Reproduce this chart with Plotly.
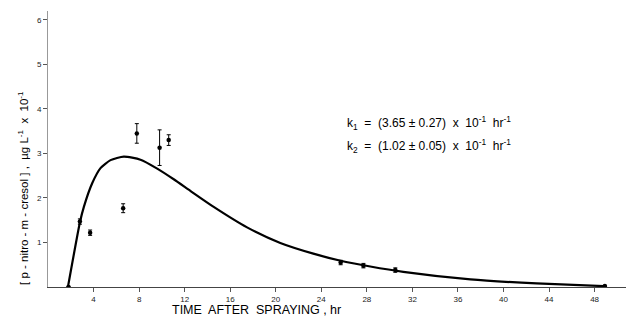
import plotly.graph_objects as go

# measured data (time, hr ; concentration, ug/L x 10^-1)
obs_t = [1.8, 2.8, 3.7, 6.6, 7.8, 9.8, 10.6, 25.7, 27.7, 30.5, 48.9]
obs_c = [0.0, 1.47, 1.22, 1.77, 3.45, 3.13, 3.30, 0.55, 0.48, 0.38, 0.02]
obs_err = [0.0, 0.06, 0.06, 0.1, 0.22, 0.4, 0.12, 0.05, 0.05, 0.05, 0.0]

# fitted curve
fit_t = [1.75, 2.8, 3.15, 3.88, 4.61, 5.49, 6.66, 8.12, 9.59, 11.04, 12.5, 14.55,
         17.48, 20.4, 23.3, 25.7, 28.3, 31.2, 37.1, 42.9, 48.8]
fit_c = [0.0, 1.45, 1.80, 2.33, 2.67, 2.85, 2.93, 2.86, 2.66, 2.42, 2.16, 1.80,
         1.34, 0.99, 0.75, 0.59, 0.46, 0.34, 0.17, 0.08, 0.02]

x_ticks = [4, 8, 12, 16, 20, 24, 28, 32, 36, 40, 44, 48]
y_ticks = [1, 2, 3, 4, 5, 6]

fig = go.Figure()
fig.add_trace(go.Scatter(
    x=fit_t, y=fit_c, mode="lines", line=dict(color="black", width=2.2, shape="spline", smoothing=0.6),
    hoverinfo="skip", showlegend=False))
fig.add_trace(go.Scatter(
    x=obs_t, y=obs_c, mode="markers",
    marker=dict(color="black", size=4.5),
    error_y=dict(type="data", array=obs_err, color="black", thickness=1, width=2),
    showlegend=False))

tickfont = dict(family="Liberation Sans, Arial, sans-serif", size=8, color="#222")
fig.update_xaxes(range=[0, 51.46], tickvals=x_ticks, ticks="outside", ticklen=4, tickcolor="#555",
                 showline=True, linecolor="#444", linewidth=1, showgrid=False, zeroline=False,
                 tickfont=tickfont)
fig.update_yaxes(range=[0, 6.2], tickvals=y_ticks, ticks="outside", ticklen=4, tickcolor="#555",
                 showline=True, linecolor="#999", linewidth=1, showgrid=False, zeroline=False,
                 tickfont=tickfont)

labfont = dict(family="Liberation Sans, Arial, sans-serif", size=12.5, color="black")
fig.add_annotation(xref="paper", yref="paper", x=(256 - 48) / 586, y=-0.05, yanchor="top",
                   text="TIME  AFTER  SPRAYING , hr", showarrow=False, font=labfont)
fig.add_annotation(xref="paper", yref="paper", x=-0.058, y=(287 - 188) / 276,
                   text="[ p - nitro - m - cresol ] ,  µg L<sup>-1</sup>  x  10<sup>-1</sup>",
                   textangle=-90, showarrow=False,
                   font=dict(family="Liberation Sans, Arial, sans-serif", size=11.5, color="black"))
kfont = dict(family="Liberation Sans, Arial, sans-serif", size=12, color="black")
fig.add_annotation(xref="paper", yref="paper", x=(345 - 48) / 586, y=(287 - 123) / 276, xanchor="left",
                   text="k<sub>1</sub>  =  (3.65 ± 0.27)  x  10<sup>-1</sup>  hr<sup>-1</sup>",
                   showarrow=False, font=kfont)
fig.add_annotation(xref="paper", yref="paper", x=(345 - 48) / 586, y=(287 - 146) / 276, xanchor="left",
                   text="k<sub>2</sub>  =  (1.02 ± 0.05)  x  10<sup>-1</sup>  hr<sup>-1</sup>",
                   showarrow=False, font=kfont)

# page body has an 8px margin, so the figure is sized to fit the 634x320 window
fig.update_layout(width=626, height=312, margin=dict(l=40, r=0, t=3, b=33),
                  plot_bgcolor="white", paper_bgcolor="white")
fig.write_html("out.html")
